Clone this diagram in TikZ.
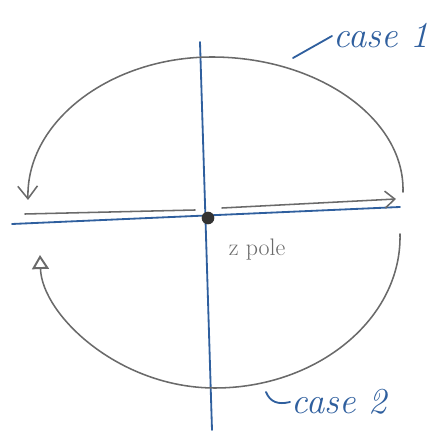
\documentclass[tikz,border=0pt]{standalone}
\usepackage{fontspec}
\usepackage{tikz}
\usetikzlibrary{arrows.meta,positioning}
\definecolor{ink}{HTML}{2F5F9E}
\definecolor{pencil}{HTML}{6A6A6A}

\begin{document}
\begin{tikzpicture}[
    x=0.25mm,y=-0.25mm,
    axis/.style={draw=ink,line width=1.3pt,line cap=round},
    path/.style={draw=pencil,line width=1.1pt,line cap=round},
    label/.style={text=ink,font=\fontsize{26}{28}\selectfont\itshape,inner sep=1pt},
    lead/.style={draw=ink,line width=1.3pt,line cap=round}
  ]
    \useasboundingbox (0,0) rectangle (446,433);
    % axes and pole
    \coordinate (top) at (200,42);
    \coordinate (bottom) at (212,430);
    \coordinate (west) at (12,224);
    \coordinate (east) at (400,207);
    \draw[axis] (top) -- (bottom);
    \draw[axis] (west) -- (east);
    \node[circle,fill=black!80,inner sep=0pt,minimum size=9pt] (pole) at (208,218) {};
    \node[text=pencil,font=\fontsize{17}{19}\selectfont,anchor=north west] (polelbl) at (224,234) {z pole};
    % strokes along the axis
    \coordinate (la) at (25,214);
    \coordinate (lb) at (195,210);
    \coordinate (ra) at (222,208);
    \coordinate (rb) at (396,199);
    \draw[path] (la) -- (lb);
    \draw[path,-{Straight Barb[length=7pt,width=12pt]}] (ra) -- (rb);
    % case 1: over the top
    \coordinate (c1a) at (403,192);
    \coordinate (c1b) at (28,200);
    \draw[path,-{Straight Barb[length=9pt,width=14pt]}] (c1a) .. controls (405,118) and (317,57) .. (212,57)
      .. controls (111,57) and (26,121) .. (c1b);
    % case 2: under the bottom
    \coordinate (c2a) at (400,234);
    \coordinate (c2b) at (40,255);
    \draw[path,-{Triangle[open,length=10pt,width=12pt,line width=1.4pt]}] (c2a) .. controls (402,319) and (317,388) .. (215,388)
      .. controls (119,388) and (42,315) .. (c2b);
    % labels
    \node[label,anchor=west] (case1) at (332,36) {case 1};
    \node[label,anchor=west] (case2) at (290,402) {case 2};
    \draw[lead] (293,58) -- (case1.west);
    \draw[lead] (266,392) .. controls (270,402) and (278,405) .. (case2.west);
  \end{tikzpicture}
\end{document}
